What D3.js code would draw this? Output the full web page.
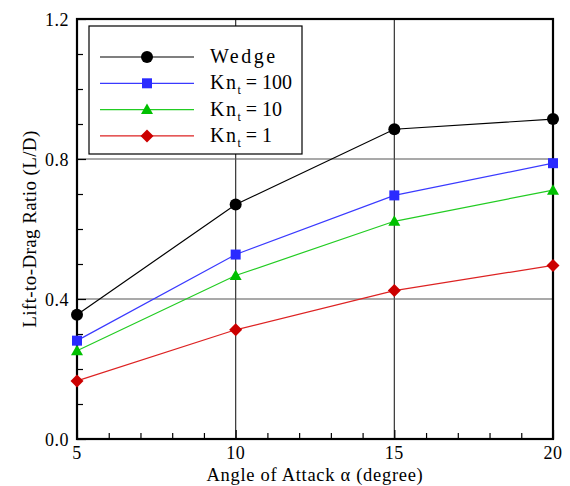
<!DOCTYPE html>
<html><head><meta charset="utf-8">
<script src="https://cdn.jsdelivr.net/npm/d3@7"></script>
<style>body{margin:0;background:#fff}svg{display:block}</style>
</head><body><div id="c"></div>
<script>
const angles = [5, 10, 15, 20];
const wedge = [0.355, 0.670, 0.885, 0.914];
const kn100 = [0.281, 0.527, 0.696, 0.788];
const kn10 = [0.252, 0.467, 0.622, 0.711];
const kn1 = [0.166, 0.312, 0.424, 0.496];
const xTicks = [5, 10, 15, 20];
const yTicks = [0.0, 0.4, 0.8, 1.2];
const seriesNames = ["Wedge", "Kn_t = 100", "Kn_t = 10", "Kn_t = 1"];

const FONT = "'Liberation Serif', 'DejaVu Serif', 'Times New Roman', serif";
const W = 570, H = 486;
const m = {l: 77, r: 17, t: 19, b: 47};
const svg = d3.select("#c").append("svg").attr("width", W).attr("height", H)
  .attr("font-family", FONT).style("font-family", FONT);
const x = d3.scaleLinear().domain([5, 20]).range([m.l, W - m.r]);
const y = d3.scaleLinear().domain([0, 1.2]).range([H - m.b, m.t]);

const series = [
  {name: seriesNames[0], vals: wedge, color: "#000000", mcolor: "#000000", shape: "circle"},
  {name: seriesNames[1], vals: kn100, color: "#3a3aff", mcolor: "#2a2aff", shape: "square"},
  {name: seriesNames[2], vals: kn10, color: "#22cc22", mcolor: "#00c000", shape: "triangle"},
  {name: seriesNames[3], vals: kn1, color: "#dd2222", mcolor: "#cc0000", shape: "diamond"}
];

// grid lines
svg.append("g").selectAll("line").data([10, 15]).join("line")
  .attr("x1", d => x(d)).attr("x2", d => x(d)).attr("y1", y(0)).attr("y2", y(1.2))
  .attr("stroke", "#333").attr("stroke-width", 1.2);
svg.append("g").selectAll("line").data([0.4, 0.8]).join("line")
  .attr("x1", x(5)).attr("x2", x(20)).attr("y1", d => y(d)).attr("y2", d => y(d))
  .attr("stroke", "#555").attr("stroke-width", 1.2);

// minor/major ticks (inward)
const xg = svg.append("g").attr("transform", `translate(0,${y(0)})`)
  .call(d3.axisBottom(x).tickValues(d3.range(5, 21, 1)).tickSize(-6).tickFormat(""));
xg.select(".domain").remove();
xg.selectAll("line").attr("stroke", "#000").attr("stroke-width", 1.2);
xg.selectAll("line").filter(d => xTicks.includes(d)).attr("y2", -9);
const yg = svg.append("g").attr("transform", `translate(${x(5)},0)`)
  .call(d3.axisLeft(y).tickValues(d3.range(0, 1.21, 0.1)).tickSize(-6).tickFormat(""));
yg.select(".domain").remove();
yg.selectAll("line").attr("stroke", "#000").attr("stroke-width", 1.2);
yg.selectAll("line").filter(d => yTicks.some(t => Math.abs(t - d) < 1e-6)).attr("x2", 9);

// tick labels
svg.append("g").selectAll("text").data(xTicks).join("text")
  .attr("x", d => x(d)).attr("y", 459).attr("text-anchor", "middle")
  .attr("font-size", 18).attr("letter-spacing", 0.5).text(d => d);
svg.append("g").selectAll("text").data(yTicks).join("text")
  .attr("x", x(5) - 8).attr("y", d => y(d) + 7).attr("text-anchor", "end")
  .attr("font-size", 18).attr("letter-spacing", 0.5).text(d => d.toFixed(1));

// frame
svg.append("rect").attr("x", x(5)).attr("y", y(1.2)).attr("width", x(20) - x(5)).attr("height", y(0) - y(1.2))
  .attr("fill", "none").attr("stroke", "#000").attr("stroke-width", 2.2);

// axis titles
svg.append("text").attr("x", (x(5) + x(20)) / 2).attr("y", 481).attr("text-anchor", "middle")
  .attr("font-size", 18.5).attr("letter-spacing", 0.7).text("Angle of Attack α (degree)");
svg.append("text").attr("transform", `translate(36,${(y(0) + y(1.2)) / 2}) rotate(-90)`)
  .attr("text-anchor", "middle").attr("font-size", 19).attr("letter-spacing", 0.4).text("Lift-to-Drag Ratio (L/D)");

function marker(g, shape, cx, cy, color) {
  if (shape === "circle") g.append("circle").attr("cx", cx).attr("cy", cy).attr("r", 6).attr("fill", color);
  else if (shape === "square") g.append("rect").attr("x", cx - 5).attr("y", cy - 5).attr("width", 10).attr("height", 10).attr("fill", color);
  else if (shape === "triangle") g.append("path").attr("d", `M${cx},${cy - 6}L${cx + 6},${cy + 4.5}L${cx - 6},${cy + 4.5}Z`).attr("fill", color);
  else g.append("path").attr("d", `M${cx},${cy - 6.5}L${cx + 6.5},${cy}L${cx},${cy + 6.5}L${cx - 6.5},${cy}Z`).attr("fill", color);
}

const line = d3.line().x(d => x(d[0])).y(d => y(d[1]));
series.slice().reverse().forEach(s => {
  const pts = angles.map((a, i) => [a, s.vals[i]]);
  svg.append("path").attr("d", line(pts)).attr("fill", "none").attr("stroke", s.color).attr("stroke-width", 1.2);
  const g = svg.append("g");
  pts.forEach(p => marker(g, s.shape, x(p[0]), y(p[1]), s.mcolor));
});

// legend
const lg = svg.append("g");
lg.append("rect").attr("x", 89).attr("y", 26).attr("width", 213).attr("height", 128)
  .attr("fill", "#fff").attr("stroke", "#000").attr("stroke-width", 1.2);
series.forEach((s, i) => {
  const ly = 57 + i * 26.3;
  lg.append("line").attr("x1", 100).attr("x2", 194).attr("y1", ly).attr("y2", ly).attr("stroke", s.color).attr("stroke-width", 1.2);
  marker(lg, s.shape, 147, ly, s.mcolor);
  const t = lg.append("text").attr("x", 210).attr("y", ly + 6).attr("font-size", 20);
  if (s.name.startsWith("Kn_t")) {
    t.append("tspan").attr("letter-spacing", 1.5).text("Kn");
    t.append("tspan").attr("font-size", 12).attr("dy", 5).text("t");
    t.append("tspan").attr("dy", -5).text(s.name.replace("Kn_t", ""));
  } else {
    t.attr("letter-spacing", 2.5).text(s.name);
  }
});
</script></body></html>
